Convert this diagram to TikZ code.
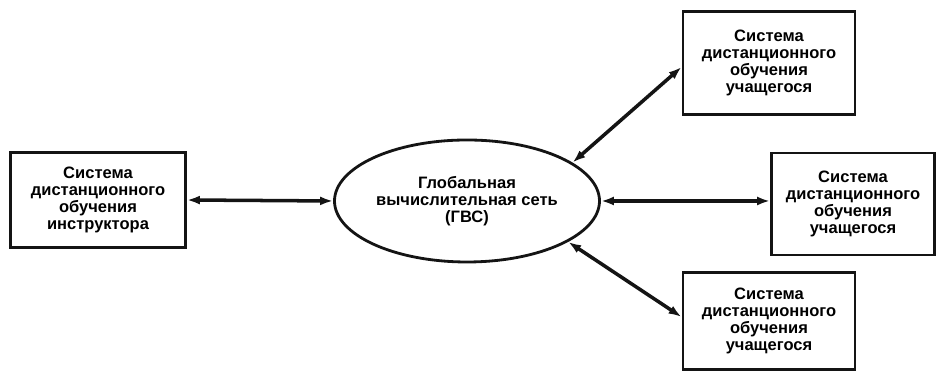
\documentclass[tikz,border=0pt]{standalone}
\usepackage{fontspec}
\setmainfont{Liberation Sans}
\usepackage{tikz}
\usetikzlibrary{shapes,arrows,positioning,calc,arrows.meta}
\definecolor{inkblack}{RGB}{20,20,20}

\begin{document}
\begin{tikzpicture}[>={Latex[length=2.6mm,width=1.8mm]},
    sysbox/.style={draw=inkblack, line width=1.6pt, align=center, font=\bfseries\fontsize{9.4}{9.8}\selectfont, inner sep=0pt},
    netell/.style={draw=inkblack, ellipse, line width=1.6pt, align=center, font=\bfseries\fontsize{9.4}{9.8}\selectfont, inner sep=0pt},
    link/.style={<->, inkblack, line width=2pt}]
    \useasboundingbox (0,0) rectangle (18.76,7.46);

    % Network in the middle
    \node[netell, minimum width=5.3cm, minimum height=2.44cm] (gvs) at (9.34,3.44)
        {Глобальная\\вычислительная сеть\\(ГВС)};

    % Instructor
    \node[sysbox, minimum width=3.5cm, minimum height=1.9cm] (instr) at (1.96,3.46)
        {Система\\дистанционного\\обучения\\инструктора};

    % Students
    \node[sysbox, minimum width=3.44cm, minimum height=2.06cm] (stud1) at (15.38,6.2)
        {Система\\дистанционного\\обучения\\учащегося};
    \node[sysbox, minimum width=3.26cm, minimum height=2.04cm] (stud2) at (17.06,3.38)
        {Система\\дистанционного\\обучения\\учащегося};
    \node[sysbox, minimum width=3.44cm, minimum height=1.94cm] (stud3) at (15.38,1.04)
        {Система\\дистанционного\\обучения\\учащегося};

    % Links
    \draw[link] (instr.east) -- (gvs.west);
    \draw[link] (gvs.20) -- ($(stud1.west)+(0,-0.08)$);
    \draw[link] (gvs.east) -- (stud2.west |- gvs.east);
    \draw[link] (gvs.-22) -- ($(stud3.west)+(0,0.08)$);
\end{tikzpicture}
\end{document}
